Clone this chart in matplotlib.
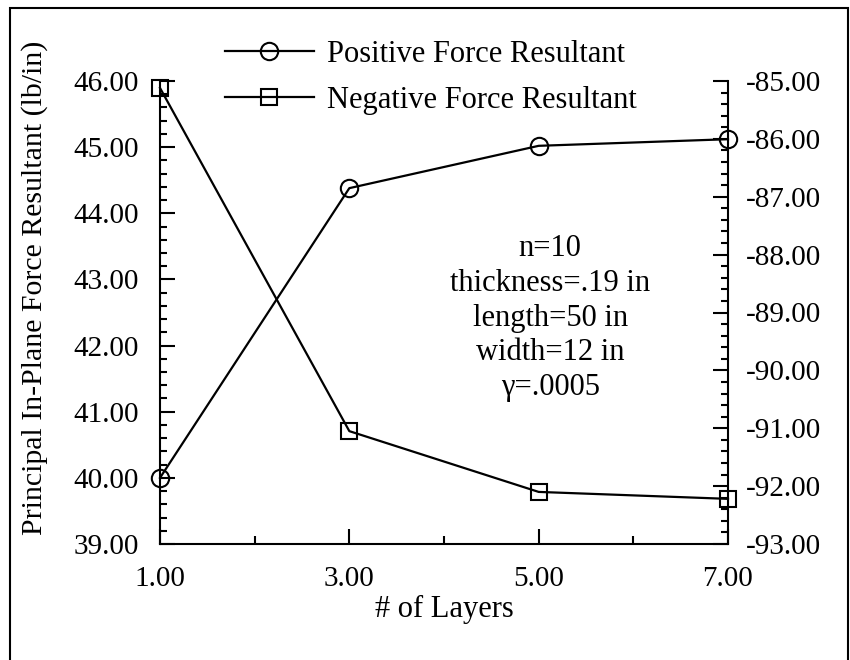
import numpy as np
import matplotlib
matplotlib.use("Agg")
import matplotlib.pyplot as plt
from matplotlib.ticker import FixedLocator, MultipleLocator, FormatStrFormatter
from matplotlib.patches import Rectangle

plt.rcParams['font.family'] = ['Liberation Serif', 'DejaVu Serif']

# data
layers = [1, 3, 5, 7]
positive = [40.00, 44.38, 45.02, 45.12]      # left axis (lb/in)
negative = [-85.12, -91.05, -92.10, -92.22]  # right axis (lb/in)
x_major = [1, 3, 5, 7]
x_minor = [2, 4, 6]
note = "n=10\nthickness=.19 in\nlength=50 in\nwidth=12 in\n\u03b3=.0005"

W, H = 850, 660
fig = plt.figure(figsize=(W / 100, H / 100), dpi=100)

# axes box in pixels: x 160..728, y 81..544
ax = fig.add_axes([160 / W, 1 - 544 / H, 568 / W, 463 / H])
ax2 = ax.twinx()

lw = 1.6
p1, = ax.plot(layers, positive, color='black', lw=lw, marker='o', ms=12.5,
              mfc='none', mec='black', mew=1.5, label='Positive Force Resultant',
              clip_on=False, zorder=3)
p2, = ax2.plot(layers, negative, color='black', lw=lw, marker='s', ms=12,
               mfc='none', mec='black', mew=1.5, label='Negative Force Resultant',
               clip_on=False, zorder=3)

ax.set_xlim(1, 7)
ax.set_ylim(39, 46)
ax2.set_ylim(-93, -85)

ax.xaxis.set_major_locator(FixedLocator(x_major))
ax.xaxis.set_minor_locator(FixedLocator(x_minor))
ax.xaxis.set_major_formatter(FormatStrFormatter('%.2f'))
ax.yaxis.set_major_locator(MultipleLocator(1))
ax.yaxis.set_minor_locator(MultipleLocator(0.2))
ax.yaxis.set_major_formatter(FormatStrFormatter('%.2f'))
ax2.yaxis.set_major_locator(MultipleLocator(1))
ax2.yaxis.set_minor_locator(MultipleLocator(0.2))
ax2.yaxis.set_major_formatter(FormatStrFormatter('%.2f'))

ax.tick_params(axis='y', which='major', direction='in', length=11, width=1.5,
               pad=15, labelsize=21)
ax.tick_params(axis='y', which='minor', direction='in', length=5, width=1.5)
ax.tick_params(axis='x', which='major', direction='in', length=11, width=1.5,
               pad=16, labelsize=21)
ax.tick_params(axis='x', which='minor', direction='in', length=6, width=1.5)
ax2.tick_params(axis='y', which='major', direction='in', length=11, width=1.5,
                pad=13, labelsize=21)
ax2.tick_params(axis='y', which='minor', direction='in', length=5, width=1.5)

for a in (ax, ax2):
    a.spines['top'].set_visible(False)
    for s in a.spines.values():
        s.set_linewidth(1.5)
ax2.spines['left'].set_visible(False)
ax2.spines['bottom'].set_visible(False)
ax.spines['right'].set_visible(False)

ax.set_xlabel('# of Layers', fontsize=22, labelpad=2)
fig.text(35 / W, 1 - 288 / H, 'Principal In-Plane Force Resultant (lb/in)',
         rotation=90, ha='center', va='center', fontsize=21.5)

ax.text(0.687, 0.488, note, transform=ax.transAxes, ha='center', va='center',
        multialignment='center', linespacing=1.27, fontsize=22)

fig.legend([p1, p2], [p1.get_label(), p2.get_label()], loc='upper left',
           bbox_to_anchor=(225 / W, 1 - 40 / H), frameon=False, fontsize=22,
           handlelength=2.9, handletextpad=0.45, labelspacing=0.55,
           borderpad=0, borderaxespad=0, numpoints=1)

# page frame around the figure
fig.patches.append(Rectangle((10 / W, -0.05), 838 / W, 1.05 - 8 / H,
                             transform=fig.transFigure, fill=False,
                             edgecolor='black', lw=1.5, clip_on=False))

fig.savefig('out.png', dpi=100)
